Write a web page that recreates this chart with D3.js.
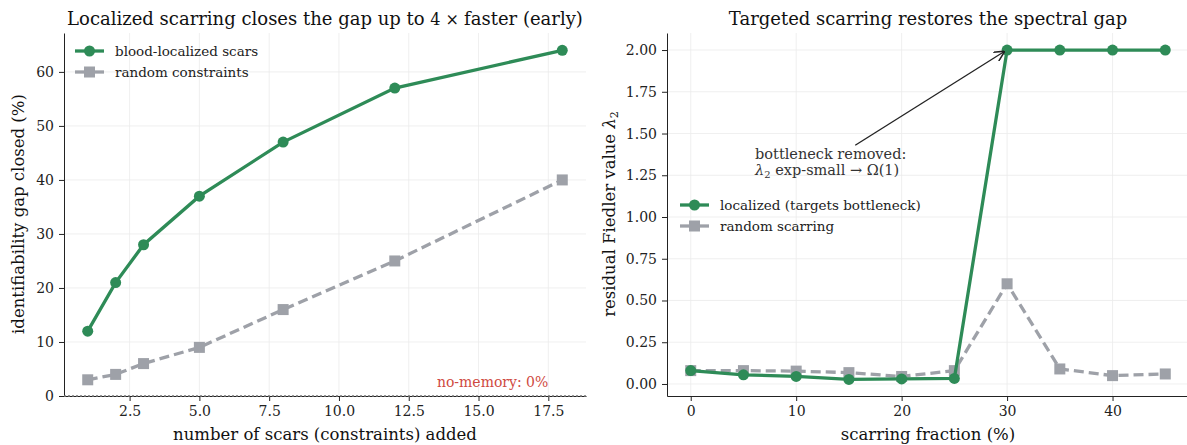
<!DOCTYPE html>
<html>
<head>
<meta charset="utf-8">
<script src="https://cdn.jsdelivr.net/npm/d3@7"></script>
<style>
  body { margin: 0; background: #fff; }
  svg { font-family: "DejaVu Serif", serif; }
  .grid line { stroke: #ebebeb; stroke-width: 0.8; }
  .axis path, .axis line { stroke: #222; }
  .axis text { font-size: 14px; fill: #222; font-family: "DejaVu Serif", serif; }
</style>
</head>
<body>
<svg id="chart" width="1187" height="445"></svg>
<script>
// left panel data
const scars = [1, 2, 3, 5, 8, 12, 18];
const bloodLocalized = [12, 21, 28, 37, 47, 57, 64];
const randomConstraints = [3, 4, 6, 9, 16, 25, 40];
const leftXTicks = [2.5, 5, 7.5, 10, 12.5, 15, 17.5];
const leftYTicks = [0, 10, 20, 30, 40, 50, 60];

// right panel data
const fraction = [0, 5, 10, 15, 20, 25, 30, 35, 40, 45];
const localizedFiedler = [0.08, 0.055, 0.045, 0.027, 0.03, 0.033, 2.0, 2.0, 2.0, 2.0];
const randomFiedler = [0.08, 0.08, 0.077, 0.068, 0.045, 0.08, 0.6, 0.09, 0.05, 0.06];
const rightXTicks = [0, 10, 20, 30, 40];
const rightYTicks = [0, 0.25, 0.5, 0.75, 1.0, 1.25, 1.5, 1.75, 2.0];

const green = '#2e8b57';
const gray = '#9ea1a8';

const svg = d3.select('#chart');

function panel(opts) {
  const x = d3.scaleLinear().domain(opts.xDomain).range([opts.left, opts.right]);
  const y = d3.scaleLinear().domain(opts.yDomain).range([opts.bottom, opts.top]);
  const g = svg.append('g');

  // grid
  g.append('g').attr('class', 'grid')
    .selectAll('line').data(opts.xTicks).enter().append('line')
    .attr('x1', d => x(d)).attr('x2', d => x(d))
    .attr('y1', opts.top).attr('y2', opts.bottom);
  g.append('g').attr('class', 'grid')
    .selectAll('line').data(opts.yTicks).enter().append('line')
    .attr('y1', d => y(d)).attr('y2', d => y(d))
    .attr('x1', opts.left).attr('x2', opts.right);

  // axes
  const xAxis = d3.axisBottom(x).tickValues(opts.xTicks).tickFormat(opts.xFormat).tickSize(5).tickPadding(5).tickSizeOuter(0);
  const yAxis = d3.axisLeft(y).tickValues(opts.yTicks).tickFormat(opts.yFormat).tickSize(5).tickPadding(5).tickSizeOuter(0);
  g.append('g').attr('class', 'axis')
    .attr('transform', 'translate(0,' + opts.bottom + ')')
    .call(xAxis);
  g.append('g').attr('class', 'axis')
    .attr('transform', 'translate(' + opts.left + ',0)')
    .call(yAxis);

  return { x, y, g };
}

function drawSeries(p, xs, ys, color, dashed, marker) {
  const pts = xs.map((d, i) => [d, ys[i]]);
  const line = d3.line().x(d => p.x(d[0])).y(d => p.y(d[1]));
  p.g.append('path').datum(pts)
    .attr('d', line)
    .attr('fill', 'none')
    .attr('stroke', color)
    .attr('stroke-width', 3.3)
    .attr('stroke-dasharray', dashed ? '10,5' : null);
  if (marker === 'circle') {
    p.g.selectAll(null).data(pts).enter().append('circle')
      .attr('cx', d => p.x(d[0])).attr('cy', d => p.y(d[1]))
      .attr('r', 5.5).attr('fill', color);
  } else {
    p.g.selectAll(null).data(pts).enter().append('rect')
      .attr('x', d => p.x(d[0]) - 5.5).attr('y', d => p.y(d[1]) - 5.5)
      .attr('width', 11).attr('height', 11).attr('fill', color);
  }
}

function legend(x0, y0, items) {
  items.forEach((it, i) => {
    const yy = y0 + i * 21;
    svg.append('line').attr('x1', x0).attr('x2', x0 + 29).attr('y1', yy).attr('y2', yy)
      .attr('stroke', it.color).attr('stroke-width', 3.3);
    if (it.marker === 'circle') {
      svg.append('circle').attr('cx', x0 + 14.5).attr('cy', yy).attr('r', 5.5).attr('fill', it.color);
    } else {
      svg.append('rect').attr('x', x0 + 9).attr('y', yy - 5.5).attr('width', 11).attr('height', 11).attr('fill', it.color);
    }
    svg.append('text').attr('x', x0 + 40).attr('y', yy + 4.5)
      .attr('font-size', 13.5).attr('fill', '#222').text(it.label);
  });
}

// ---------- left panel ----------
const L = panel({
  left: 64, right: 586, top: 33, bottom: 396,
  xDomain: [0.15, 18.85], yDomain: [0, 67.2],
  xTicks: leftXTicks, yTicks: leftYTicks,
  xFormat: d3.format('.1f'), yFormat: d3.format('d')
});

// no-memory baseline
L.g.append('line')
  .attr('x1', 64).attr('x2', 586)
  .attr('y1', L.y(0)).attr('y2', L.y(0))
  .attr('stroke', '#777').attr('stroke-width', 1.5).attr('stroke-dasharray', '2,2');
L.g.append('text')
  .attr('x', L.x(17.5)).attr('y', L.y(0) - 9)
  .attr('text-anchor', 'end').attr('font-size', 14).attr('fill', '#cf4a3f')
  .text('no-memory: 0%');

drawSeries(L, scars, randomConstraints, gray, true, 'square');
drawSeries(L, scars, bloodLocalized, green, false, 'circle');

legend(75, 51, [
  { label: 'blood-localized scars', color: green, marker: 'circle' },
  { label: 'random constraints', color: gray, marker: 'square' }
]);

const t1 = svg.append('text').attr('x', 325).attr('y', 25)
  .attr('text-anchor', 'middle').attr('font-size', 18).attr('fill', '#111');
t1.append('tspan').text('Localized scarring closes the gap up to ');
t1.append('tspan').attr('font-size', 16).text('4 × ');
t1.append('tspan').text('faster (early)');

svg.append('text').attr('x', 325).attr('y', 440)
  .attr('text-anchor', 'middle').attr('font-size', 16.5).attr('fill', '#111')
  .text('number of scars (constraints) added');
svg.append('text')
  .attr('transform', 'translate(24,' + 214 + ') rotate(-90)')
  .attr('text-anchor', 'middle').attr('font-size', 16.5).attr('fill', '#111')
  .text('identifiability gap closed (%)');

// ---------- right panel ----------
const R = panel({
  left: 667, right: 1189, top: 33, bottom: 396,
  xDomain: [-2.25, 47.25], yDomain: [-0.072, 2.102],
  xTicks: rightXTicks, yTicks: rightYTicks,
  xFormat: d3.format('d'), yFormat: d3.format('.2f')
});

drawSeries(R, fraction, randomFiedler, gray, true, 'square');
drawSeries(R, fraction, localizedFiedler, green, false, 'circle');

// annotation
svg.append('defs').append('marker')
  .attr('id', 'arrow').attr('viewBox', '0 0 10 10').attr('refX', 9).attr('refY', 5)
  .attr('markerWidth', 8).attr('markerHeight', 8).attr('orient', 'auto')
  .append('path').attr('d', 'M0,0 L10,5 L0,10').attr('fill', 'none').attr('stroke', '#222').attr('stroke-width', 1.5);
R.g.append('line')
  .attr('x1', R.x(15.6)).attr('y1', R.y(1.43))
  .attr('x2', R.x(29.7)).attr('y2', R.y(1.99))
  .attr('stroke', '#222').attr('stroke-width', 1.3)
  .attr('marker-end', 'url(#arrow)');
R.g.append('text').attr('font-size', 14.5).attr('fill', '#333')
  .attr('x', R.x(6.1)).attr('y', R.y(1.347)).text('bottleneck removed:');
const l2 = R.g.append('text').attr('font-size', 14.5).attr('fill', '#333')
  .attr('x', R.x(6.1)).attr('y', R.y(1.25));
l2.append('tspan').attr('font-style', 'italic').text('λ');
l2.append('tspan').attr('font-size', 10).attr('dy', 3).text('2');
l2.append('tspan').attr('dy', -3).text(' exp-small  → Ω(1)');

legend(680, 205, [
  { label: 'localized (targets bottleneck)', color: green, marker: 'circle' },
  { label: 'random scarring', color: gray, marker: 'square' }
]);

svg.append('text').attr('x', 928).attr('y', 440)
  .attr('text-anchor', 'middle').attr('font-size', 16.5).attr('fill', '#111')
  .text('scarring fraction (%)');
const yl = svg.append('text')
  .attr('transform', 'translate(615,' + 214 + ') rotate(-90)')
  .attr('text-anchor', 'middle').attr('font-size', 16.5).attr('fill', '#111');
yl.append('tspan').text('residual Fiedler value ');
yl.append('tspan').attr('font-style', 'italic').text('λ');
yl.append('tspan').attr('font-size', 11).attr('dy', 3).text('2');

svg.append('text').attr('x', 928).attr('y', 25)
  .attr('text-anchor', 'middle').attr('font-size', 18).attr('fill', '#111')
  .text('Targeted scarring restores the spectral gap');
</script>
</body>
</html>
